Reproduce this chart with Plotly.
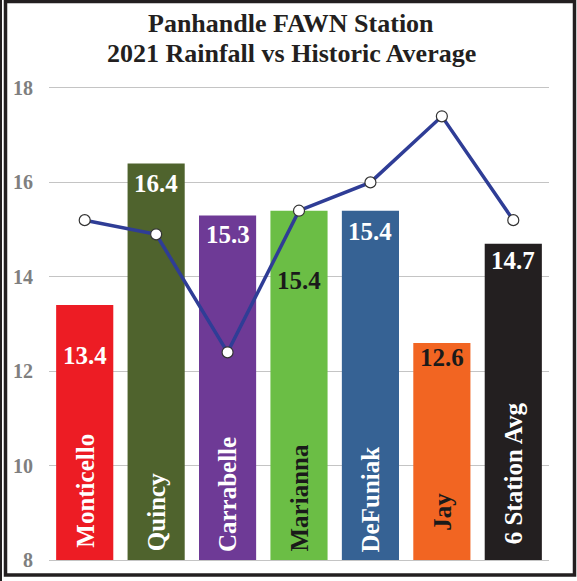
import plotly.graph_objects as go

stations = ["Monticello", "Quincy", "Carrabelle", "Marianna", "DeFuniak", "Jay", "6 Station Avg"]
rain_2021 = [13.4, 16.4, 15.3, 15.4, 15.4, 12.6, 14.7]
historic_avg = [15.2, 14.9, 12.4, 15.4, 16.0, 17.4, 15.2]
y_ticks = [8, 10, 12, 14, 16, 18]
title_lines = ["Panhandle FAWN Station", "2021 Rainfall vs Historic Average"]

bar_colors = ["#ED1C24", "#4F632D", "#6E3A96", "#6BBE45", "#366294", "#F26522", "#231F20"]
text_colors = ["white", "white", "white", "#1a1a1a", "white", "#1a1a1a", "white"]
value_shift = [-50, -20, -19, -70, -21, -15, -17]
name_shift = [10, 7, 6, 6, 6, 27, 14]

FONT = "Liberation Serif, Times New Roman, serif"

W, H = 577, 581
L, R, T, B = 49, 28, 88, 21
pw, ph = W - L - R, H - T - B

def px_x(p):
    return (p - L) / pw

def px_y(p):
    return (H - B - p) / ph

fig = go.Figure()
fig.add_trace(go.Bar(
    x=stations, y=rain_2021, marker=dict(color=bar_colors, line=dict(width=0)),
    hoverinfo="x+y", showlegend=False,
))
fig.add_trace(go.Scatter(
    x=stations, y=historic_avg, mode="lines+markers",
    line=dict(color="#2F3D96", width=3.5),
    marker=dict(size=11, color="white", line=dict(color="#333333", width=1.2)),
    showlegend=False,
))

annotations = []
for i, s in enumerate(stations):
    annotations.append(dict(
        x=s, y=rain_2021[i], xref="x", yref="y", text=f"<b>{rain_2021[i]:.1f}</b>",
        showarrow=False, yanchor="middle", yshift=value_shift[i],
        font=dict(family=FONT, size=25, color=text_colors[i]),
    ))
    annotations.append(dict(
        x=s, y=y_ticks[0], xref="x", yref="y", text=f"<b>{s}</b>",
        showarrow=False, yanchor="bottom", textangle=-90, yshift=name_shift[i],
        font=dict(family=FONT, size=25, color=text_colors[i]),
    ))
for j, (line, cy) in enumerate(zip(title_lines, [23, 53])):
    annotations.append(dict(
        x=px_x(291), y=px_y(cy), xref="paper", yref="paper", text=f"<b>{line}</b>",
        showarrow=False, xanchor="center", yanchor="middle",
        font=dict(family=FONT, size=26, color="#231F20"),
    ))

shapes = [
    dict(type="rect", xref="paper", yref="paper",
         x0=px_x(5.5), x1=px_x(574.5), y0=px_y(575), y1=px_y(1.5),
         line=dict(color="#231F20", width=3.5), fillcolor="rgba(0,0,0,0)", layer="above"),
    dict(type="line", xref="paper", yref="paper",
         x0=px_x(1), x1=px_x(1), y0=px_y(581), y1=px_y(0),
         line=dict(color="#231F20", width=2)),
]

fig.update_layout(
    width=W, height=H,
    margin=dict(l=L, r=R, t=T, b=B, autoexpand=False),
    paper_bgcolor="white", plot_bgcolor="white",
    bargap=0.2,
    xaxis=dict(showticklabels=False, showgrid=False, showline=True, mirror=True,
               linecolor="#C4C4C4", linewidth=1.3, ticks=""),
    yaxis=dict(range=[8, 18], tickvals=y_ticks, showgrid=True, gridcolor="#C4C4C4",
               gridwidth=1.3, zeroline=False, showline=False, ticks="",
               ticklabelstandoff=15,
               tickfont=dict(family=FONT, size=20, color="#7F7F7F", weight="bold")),
    annotations=annotations,
    shapes=shapes,
)

fig.write_html("out.html", config={"displayModeBar": False},
               post_script="document.body.style.margin='0';")
